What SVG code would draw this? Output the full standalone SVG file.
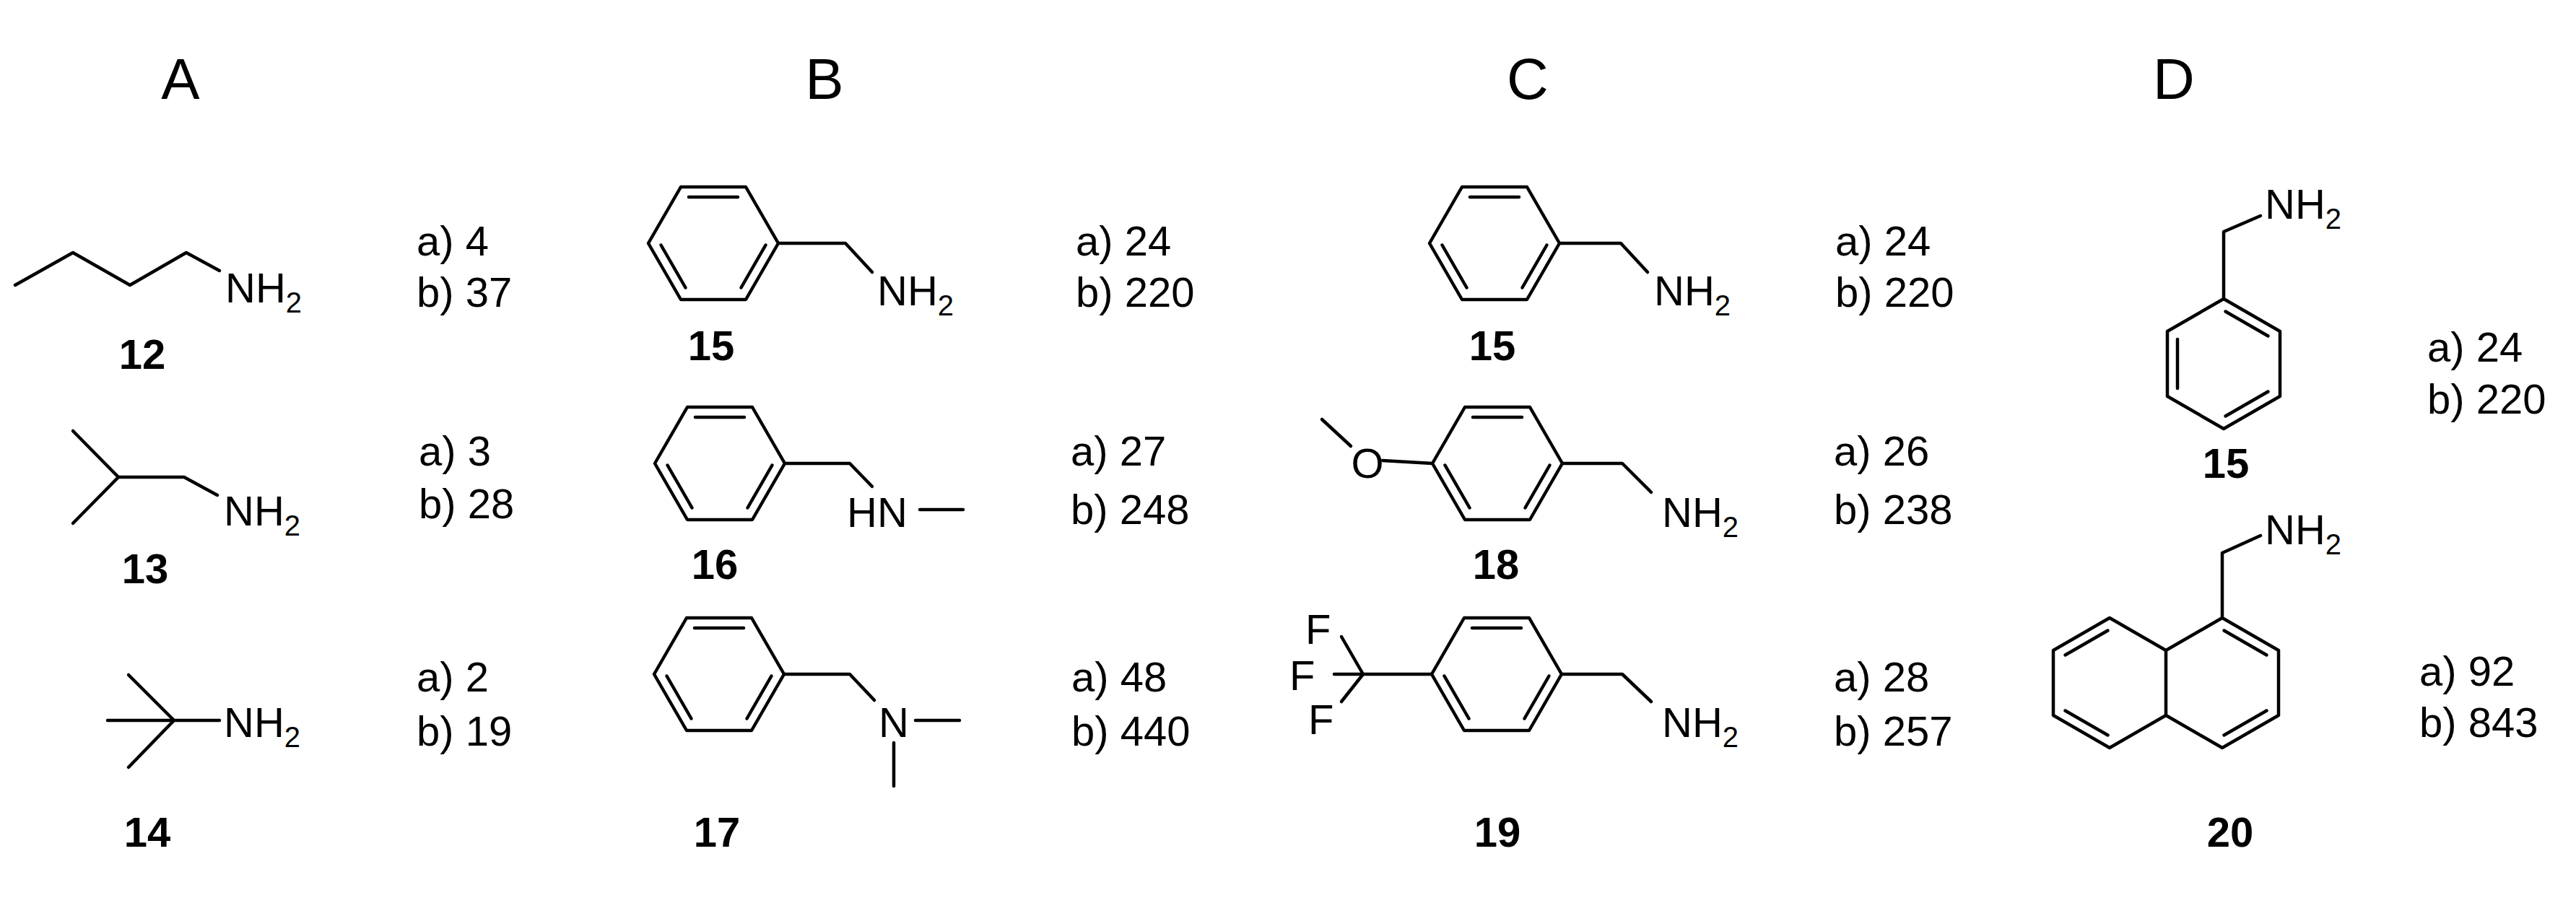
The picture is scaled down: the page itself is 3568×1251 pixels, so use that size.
<svg xmlns="http://www.w3.org/2000/svg" width="3568" height="1251" viewBox="0 0 3568 1251">
<style>
text{font-family:"Liberation Sans",Arial,sans-serif;font-size:58px;fill:#000}
.h{font-size:80px;text-anchor:middle}
.n{font-weight:bold;text-anchor:middle}
.s{font-size:40px}
line,polyline,polygon{stroke:#000;stroke-width:4.5;fill:none;stroke-linecap:round;stroke-linejoin:round}
</style>
<defs>
<g id="bz">
<polygon points="-45,-78 45,-78 90,0 45,78 -45,78 -90,0"/>
<line x1="-34" y1="-64" x2="34" y2="-64"/>
<line x1="72.5" y1="2.5" x2="38.5" y2="61.5"/>
<line x1="-72.5" y1="2.5" x2="-38.5" y2="61.5"/>
</g>
</defs>
<rect width="3568" height="1251" fill="#fff"/>
<text class="h" x="250" y="137">A</text>
<text class="h" x="1142" y="137">B</text>
<text class="h" x="2116" y="137">C</text>
<text class="h" x="3011" y="137">D</text>

<g id="c12">
<polyline points="21,395 101,350 180,395 258,350 304,375"/>
<text x="312" y="419">NH<tspan class="s" dy="14">2</tspan></text>
<text class="n" x="197" y="511">12</text>
<text x="577" y="354">a) 4</text><text x="577" y="425">b) 37</text>
</g>
<g id="c13">
<polyline points="101,597 164,661 101,725"/>
<polyline points="164,661 255,661 301,686"/>
<text x="310" y="728">NH<tspan class="s" dy="14">2</tspan></text>
<text class="n" x="201" y="808">13</text>
<text x="580" y="645">a) 3</text><text x="580" y="718">b) 28</text>
</g>
<g id="c14">
<line x1="241" y1="998" x2="178" y2="935"/>
<line x1="241" y1="998" x2="178" y2="1063"/>
<line x1="149" y1="998" x2="304" y2="998"/>
<text x="310" y="1021">NH<tspan class="s" dy="14">2</tspan></text>
<text class="n" x="204" y="1173">14</text>
<text x="577" y="958">a) 2</text><text x="577" y="1033">b) 19</text>
</g>

<g id="b15">
<use href="#bz" transform="translate(988,337)"/>
<polyline points="1078,337 1171,337 1208,377"/>
<text x="1215" y="423">NH<tspan class="s" dy="14">2</tspan></text>
<text class="n" x="985" y="499">15</text>
<text x="1490" y="354">a) 24</text><text x="1490" y="425">b) 220</text>
</g>
<g id="b16">
<use href="#bz" transform="translate(997,642)"/>
<polyline points="1087,642 1177,642 1208,674"/>
<text x="1173" y="730">HN</text>
<line x1="1274" y1="706" x2="1334" y2="706"/>
<text class="n" x="990" y="802">16</text>
<text x="1483" y="645">a) 27</text><text x="1483" y="726">b) 248</text>
</g>
<g id="b17">
<use href="#bz" transform="translate(996,934)"/>
<polyline points="1086,934 1177,934 1211,970"/>
<text x="1217" y="1021">N</text>
<line x1="1268" y1="998" x2="1329" y2="998"/>
<line x1="1238" y1="1029" x2="1238" y2="1089"/>
<text class="n" x="993" y="1173">17</text>
<text x="1484" y="958">a) 48</text><text x="1484" y="1033">b) 440</text>
</g>

<g id="cc15">
<use href="#bz" transform="translate(2070,337)"/>
<polyline points="2160,337 2245,337 2282,377"/>
<text x="2291" y="423">NH<tspan class="s" dy="14">2</tspan></text>
<text class="n" x="2067" y="499">15</text>
<text x="2542" y="354">a) 24</text><text x="2542" y="425">b) 220</text>
</g>
<g id="c18">
<use href="#bz" transform="translate(2074,642)"/>
<line x1="1915" y1="638" x2="1984" y2="642"/>
<line x1="1831" y1="581" x2="1871" y2="618"/>
<text x="1894" y="662" text-anchor="middle">O</text>
<polyline points="2164,642 2247,642 2287,682"/>
<text x="2302" y="730">NH<tspan class="s" dy="14">2</tspan></text>
<text class="n" x="2072" y="802">18</text>
<text x="2540" y="645">a) 26</text><text x="2540" y="726">b) 238</text>
</g>
<g id="c19">
<use href="#bz" transform="translate(2073,934)"/>
<line x1="1888" y1="934" x2="1983" y2="934"/>
<line x1="1888" y1="934" x2="1858" y2="882"/>
<line x1="1888" y1="934" x2="1848" y2="934"/>
<line x1="1888" y1="934" x2="1858" y2="972"/>
<text x="1808" y="892">F</text>
<text x="1786" y="956">F</text>
<text x="1812" y="1017">F</text>
<polyline points="2163,934 2247,934 2287,972"/>
<text x="2302" y="1021">NH<tspan class="s" dy="14">2</tspan></text>
<text class="n" x="2074" y="1173">19</text>
<text x="2540" y="958">a) 28</text><text x="2540" y="1033">b) 257</text>
</g>

<g id="d15">
<use href="#bz" transform="translate(3080,504) rotate(-90)"/>
<polyline points="3080,414 3080,321 3131,299"/>
<text x="3137" y="303">NH<tspan class="s" dy="14">2</tspan></text>
<text class="n" x="3083" y="662">15</text>
<text x="3362" y="501">a) 24</text><text x="3362" y="573">b) 220</text>
</g>
<g id="d20">
<polygon points="3078,856 3156,901 3156,991 3078,1036 3000,991 3000,901"/>
<polyline points="3000,901 2922,856 2844,901 2844,991 2922,1036 3000,991"/>
<line x1="3080.5" y1="873.5" x2="3139.5" y2="907.5"/>
<line x1="3080.5" y1="1018.5" x2="3139.5" y2="984.5"/>
<line x1="2919.5" y1="873.5" x2="2860.5" y2="907.5"/>
<line x1="2919.5" y1="1018.5" x2="2860.5" y2="984.5"/>
<polyline points="3078,856 3078,766 3131,742"/>
<text x="3137" y="754">NH<tspan class="s" dy="14">2</tspan></text>
<text class="n" x="3089" y="1173">20</text>
<text x="3351" y="950">a) 92</text><text x="3351" y="1021">b) 843</text>
</g>
</svg>
